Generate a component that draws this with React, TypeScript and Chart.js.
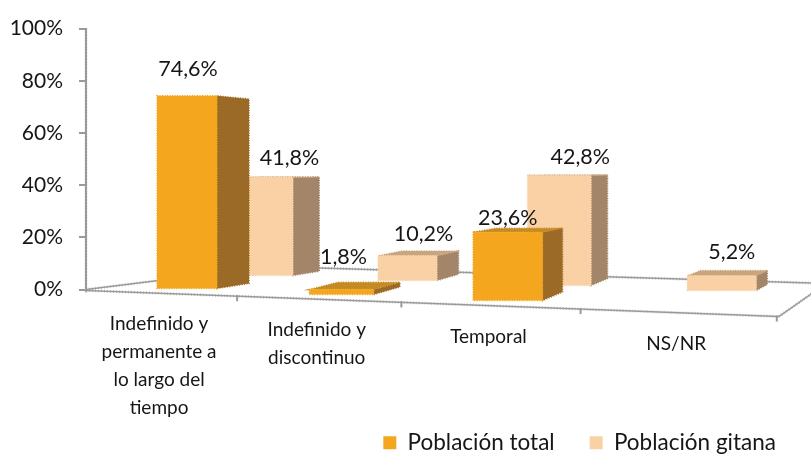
import React, { useEffect, useRef } from "react";
import { Chart, registerables } from "chart.js";

Chart.register(...registerables);

const categories: string[][] = [
  ["Indefinido y", "permanente a", "lo largo del", "tiempo"],
  ["Indefinido y", "discontinuo"],
  ["Temporal"],
  ["NS/NR"],
];
const poblacionTotal: (number | null)[] = [74.6, 1.8, 23.6, null];
const poblacionGitana: number[] = [41.8, 10.2, 42.8, 5.2];
const tickValues = [0, 20, 40, 60, 80, 100];

const FONT = "Lato, Carlito, Calibri, sans-serif";
const TEXT = "#161616";
const AXIS = "#9a9a9a";
const FACES = [
  { front: "#F4A71E", side: "#9C6A27", top: "#C58A22" },
  { front: "#F9D1A5", side: "#A3866A", top: "#C9A47C" },
];
// Perspective of the 3D floor, one entry per depth row (0 = front, 1 = back)
const ROW = [
  { x0: 187, b: 149, k: 0.0355, w0: 60, h0: 0.99, g1: 0.06, g2: 0 },
  { x0: 265.5, b: 137.5, k: 0.032, w0: 55, h0: 0.9, g1: 0.01, g2: 0.0165 },
];
// Nudges of the value labels from the top of their bar
const labelNudge = [
  [{ dx: 1, dy: -27 }, { dx: 2, dy: -33 }, { dx: 0, dy: -14 }, { dx: 0, dy: 0 }],
  [{ dx: 24, dy: -19 }, { dx: 16, dy: -22 }, { dx: 21, dy: -18 }, { dx: 10, dy: -24 }],
];

const depthDx = (x: number, s: number) => (1087 - x) * 0.0368 * (1 - 0.1 * s);
const horizon = 170;

function jagged(ctx: CanvasRenderingContext2D, x1: number, y1: number, x2: number, y2: number) {
  ctx.save();
  ctx.strokeStyle = AXIS;
  ctx.lineWidth = 1.5;
  ctx.beginPath();
  ctx.moveTo(x1, y1);
  ctx.lineTo(x2, y2);
  ctx.stroke();
  ctx.globalAlpha = 0.55;
  ctx.lineWidth = 3;
  ctx.setLineDash([1, 2]);
  ctx.stroke();
  ctx.restore();
}

function poly(ctx: CanvasRenderingContext2D, pts: number[][], fill: string) {
  ctx.fillStyle = fill;
  ctx.beginPath();
  pts.forEach((p, i) => (i ? ctx.lineTo(p[0], p[1]) : ctx.moveTo(p[0], p[1])));
  ctx.closePath();
  ctx.fill();
  ctx.save();
  ctx.strokeStyle = fill;
  ctx.lineWidth = 1.5;
  ctx.setLineDash([1, 1.5]);
  ctx.stroke();
  ctx.restore();
}

const frontFloor = (chart: any) => {
  const xs = chart.scales.x;
  const y0 = chart.scales.y.getPixelForValue(0);
  const w = xs.right - xs.left;
  const cell = w / categories.length;
  const at = (c: number) => {
    const x = xs.left + (cell * 0.841 * c) / (1 - 0.04 * c);
    return { x, y: y0 + 1 + ((x - xs.left) / w) * 26 };
  };
  return { at, y0, xs };
};

const projection = {
  id: "projection",
  afterLayout(chart: any) {
    // the legend's last item ends at the floor's right corner
    if (chart.legend) chart.legend.right = chart.width;
  },
  afterDatasetsUpdate(chart: any) {
    const ys = chart.scales.y;
    const zero = ys.getPixelForValue(0);
    chart.data.datasets.forEach((_: any, s: number) => {
      const r = ROW[s];
      chart.getDatasetMeta(s).data.forEach((el: any, c: number) => {
        const cell = chart.scales.x.getPixelForValue(c);
        const t = (cell - chart.scales.x.getPixelForValue(0)) / (chart.scales.x.getPixelForValue(1) - chart.scales.x.getPixelForValue(0));
        const v = ys.getPixelForValue((chart.data.datasets[s].data[c] as number) ?? 0);
        const base = zero - 1 + 6 * t - s * (13 + t);
        el.x = r.x0 + (r.b * t) / (1 - r.k * t);
        el.width = r.w0 / (1 - 0.068 * t);
        el.base = base;
        el.y = base - (zero - v) * (r.h0 + r.g1 * t + r.g2 * t * t);
        el.height = el.base - el.y;
      });
    });
  },
  beforeDatasetsDraw(chart: any) {
    const { ctx } = chart;
    const { at, y0, xs } = frontFloor(chart);
    const a = at(0);
    const b = at(4);
    // back and side of the floor
    jagged(ctx, xs.left, y0, 271, 266.5);
    jagged(ctx, 271, 266.5, 811, 283);
    jagged(ctx, b.x + 2, b.y, 830, 281);
    jagged(ctx, a.x, a.y, b.x + 2, b.y);
    ctx.save();
    ctx.strokeStyle = AXIS;
    ctx.lineWidth = 2;
    for (let c = 1; c <= 4; c++) {
      const p = at(c);
      ctx.beginPath();
      ctx.moveTo(p.x, p.y - 1);
      ctx.lineTo(p.x, p.y + 5);
      ctx.stroke();
    }
    ctx.restore();
    jagged(ctx, xs.left, chart.scales.y.top, xs.left, y0 + 3);
    // category labels under the front edge
    ctx.save();
    ctx.fillStyle = TEXT;
    ctx.font = `19px ${FONT}`;
    ctx.textAlign = "center";
    ctx.textBaseline = "middle";
    categories.forEach((lines, c) => {
      const p = at(c);
      const q = at(c + 1);
      const cx = (p.x + q.x) / 2 - 2.5;
      const top = (p.y + q.y) / 2 + 31;
      lines.forEach((line, i) => ctx.fillText(line, cx, top + i * 27.7));
    });
    ctx.restore();
  },
  beforeDatasetDraw(chart: any, args: any) {
    const { ctx } = chart;
    const s = args.index;
    const face = FACES[s];
    args.meta.data.forEach((el: any, c: number) => {
      if (chart.data.datasets[s].data[c] == null) return;
      const L = el.x - el.width / 2;
      const R = el.x + el.width / 2;
      const dR = depthDx(R, s);
      const dL = depthDx(L, s);
      const r = dR * (0.16 + 0.13 * c);
      const rise = (y: number) => (r * (y - horizon)) / (el.base - horizon);
      const riseTop = rise(el.y);
      poly(ctx, [[R, el.y], [R, el.base], [R + dR, el.base - r], [R + dR, el.y - riseTop]], face.side);
      if (riseTop > 0) {
        poly(ctx, [[L, el.y], [R, el.y], [R + dR, el.y - riseTop], [L + dL, el.y - riseTop]], face.top);
      }
    });
  },
  afterDatasetDraw(chart: any, args: any) {
    const { ctx } = chart;
    const s = args.index;
    args.meta.data.forEach((el: any, c: number) => {
      if (chart.data.datasets[s].data[c] == null) return;
      ctx.save();
      ctx.strokeStyle = FACES[s].front;
      ctx.lineWidth = 1.5;
      ctx.setLineDash([1, 1.5]);
      ctx.strokeRect(el.x - el.width / 2, el.y, el.width, el.base - el.y);
      ctx.restore();
    });
  },
  afterDatasetsDraw(chart: any) {
    const { ctx } = chart;
    ctx.save();
    ctx.fillStyle = TEXT;
    ctx.font = `21.5px ${FONT}`;
    ctx.textAlign = "center";
    ctx.textBaseline = "middle";
    chart.data.datasets.forEach((ds: any, s: number) => {
      chart.getDatasetMeta(s).data.forEach((el: any, c: number) => {
        const v = ds.data[c];
        if (v == null) return;
        const n = labelNudge[s][c];
        ctx.fillText(`${v.toFixed(1).replace(".", ",")}%`, el.x + n.dx, el.y + n.dy);
      });
    });
    ctx.restore();
  },
};

export default function App() {
  const ref = useRef<HTMLCanvasElement>(null);
  useEffect(() => {
    document.body.style.margin = "0";
    const chart = new Chart(ref.current!, {
      type: "bar",
      plugins: [projection],
      data: {
        labels: categories as any,
        datasets: [
          { label: "Población total", data: poblacionTotal, backgroundColor: FACES[0].front, clip: false as any },
          { label: "Población gitana", data: poblacionGitana, backgroundColor: FACES[1].front, clip: false as any },
        ],
      },
      options: {
        animation: false,
        responsive: false,
        layout: { padding: { top: 27, left: 0, right: 35, bottom: -9 } },
        plugins: {
          tooltip: { enabled: false },
          legend: {
            position: "bottom",
            align: "end",
            labels: {
              boxWidth: 13,
              boxHeight: 13,
              padding: 35,
              color: TEXT,
              font: { family: FONT, size: 22.5 },
            },
          },
        },
        scales: {
          x: {
            ticks: { display: false },
            grid: { display: false },
            border: { display: false },
            afterFit: (s: any) => {
              s.height = 107;
            },
          },
          y: {
            min: 0,
            max: 100,
            afterBuildTicks: (s: any) => {
              s.ticks = tickValues.map((value) => ({ value }));
            },
            afterFit: (s: any) => {
              s.width = 86;
            },
            ticks: {
              callback: (v: any) => `${v}%`,
              color: TEXT,
              padding: 16,
              font: { family: FONT, size: 21 },
            },
            grid: { drawOnChartArea: false, drawTicks: true, tickLength: 7, color: AXIS, lineWidth: 2 },
            border: { color: AXIS, width: 2 },
          },
        },
      },
    });
    return () => chart.destroy();
  }, []);
  return (
    <div style={{ position: "fixed", left: 0, top: 0, width: 811, height: 455, background: "#fff" }}>
      <canvas ref={ref} width={811} height={455} style={{ display: "block" }} />
    </div>
  );
}
